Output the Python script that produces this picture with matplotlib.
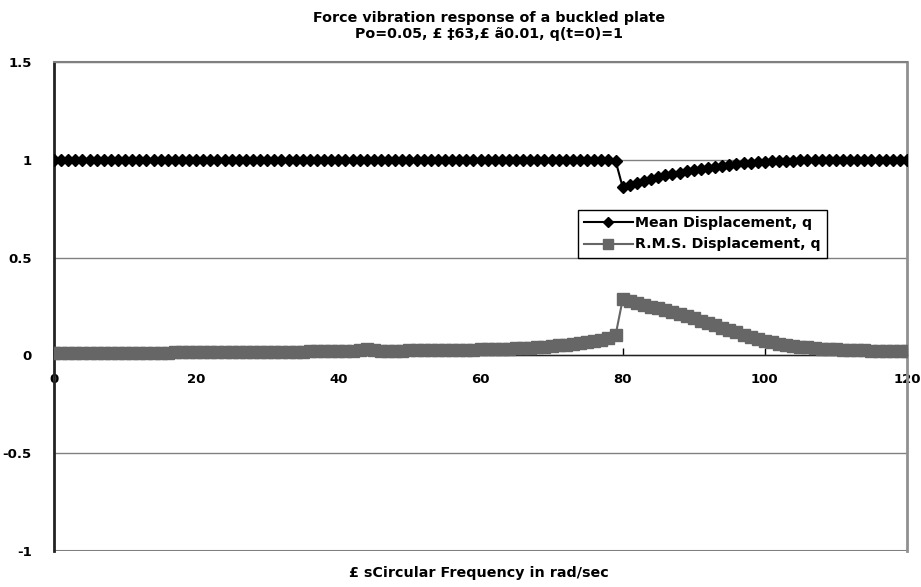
import numpy as np
import matplotlib
matplotlib.use("Agg")
import matplotlib.pyplot as plt

# circular frequency, rad/sec
freq = list(range(0, 121))

# mean displacement q
mean_q = [1.0] * 79 + [
    0.995,                                                  # 79
    0.860, 0.872, 0.883, 0.893, 0.903, 0.912, 0.920, 0.928, 0.935, 0.942,  # 80-89
    0.948, 0.954, 0.960, 0.965, 0.970, 0.975, 0.979, 0.983, 0.986, 0.989,  # 90-99
    0.991, 0.993, 0.994, 0.995, 0.996, 0.997, 0.998, 0.998, 0.999, 0.999,  # 100-109
    0.999, 1.0, 1.0, 1.0, 1.0, 1.0, 1.0, 1.0, 1.0, 1.0, 1.0,               # 110-120
]

# r.m.s. displacement q
rms_q = [
    0.012, 0.012, 0.012, 0.012, 0.012, 0.013, 0.013, 0.013, 0.013, 0.013,  # 0-9
    0.013, 0.014, 0.014, 0.014, 0.014, 0.014, 0.014, 0.015, 0.015, 0.015,  # 10-19
    0.015, 0.015, 0.016, 0.016, 0.016, 0.016, 0.017, 0.017, 0.017, 0.017,  # 20-29
    0.018, 0.018, 0.018, 0.019, 0.019, 0.019, 0.020, 0.020, 0.020, 0.021,  # 30-39
    0.021, 0.022, 0.023, 0.026, 0.034, 0.027, 0.025, 0.025, 0.025, 0.025,  # 40-49
    0.026, 0.026, 0.026, 0.027, 0.027, 0.028, 0.028, 0.029, 0.029, 0.030,  # 50-59
    0.031, 0.032, 0.033, 0.034, 0.035, 0.037, 0.038, 0.040, 0.042, 0.045,  # 60-69
    0.048, 0.051, 0.054, 0.058, 0.062, 0.067, 0.073, 0.080, 0.089, 0.103,  # 70-79
    0.286, 0.277, 0.268, 0.259, 0.249, 0.240, 0.230, 0.220, 0.210, 0.200,  # 80-89
    0.190, 0.178, 0.166, 0.154, 0.142, 0.130, 0.118, 0.106, 0.095, 0.085,  # 90-99
    0.075, 0.067, 0.060, 0.054, 0.049, 0.045, 0.041, 0.038, 0.035, 0.033,  # 100-109
    0.031, 0.029, 0.028, 0.027, 0.026, 0.025, 0.024, 0.023, 0.023, 0.022,  # 110-119
    0.022,                                                                 # 120
]

x_ticks = [0, 20, 40, 60, 80, 100, 120]
y_ticks = [-1, -0.5, 0, 0.5, 1, 1.5]
y_labels = ["-1", "-0.5", "0", "0.5", "1", "1.5"]

plt.rcParams['font.family'] = ['DejaVu Sans']

fig = plt.figure(figsize=(9.21, 5.87), dpi=100)
ax = fig.add_axes([54 / 921, 1 - 551 / 587, (907 - 54) / 921, (551 - 62) / 587])

ax.plot(freq, rms_q, color='#666666', marker='s', markersize=8.5, lw=1.5,
        label='R.M.S. Displacement, q', zorder=3)
ax.plot(freq, mean_q, color='black', marker='D', markersize=6.5, lw=1.5,
        label='Mean Displacement, q', zorder=4)

ax.set_xlim(0, 120)
ax.set_ylim(-1, 1.5)
ax.set_xticks(x_ticks)
ax.set_yticks(y_ticks)
ax.set_yticklabels(y_labels)

ax.grid(axis='y', color='#808080', lw=1, zorder=1)
ax.spines['bottom'].set_position(('data', 0))
ax.spines['bottom'].set_color('#222222')
ax.spines['bottom'].set_linewidth(1)
ax.spines['left'].set_color('#222222')
ax.spines['left'].set_linewidth(2)
ax.spines['top'].set_color('#808080')
ax.spines['top'].set_linewidth(1.5)
ax.spines['right'].set_color('#909090')
ax.spines['right'].set_linewidth(2)
ax.axhline(-1, color='#808080', lw=1.5, zorder=1)

ax.tick_params(axis='x', direction='in', length=5, width=1, pad=13,
               labelsize=9.5)
ax.tick_params(axis='y', length=0, pad=16, labelsize=9.5)
for lab in ax.get_xticklabels() + ax.get_yticklabels():
    lab.set_fontweight('bold')

handles, labels = ax.get_legend_handles_labels()
leg = ax.legend(handles[::-1], labels[::-1], loc='upper left',
                bbox_to_anchor=(578 / 921, 1 - 210 / 587),
                bbox_transform=fig.transFigure, frameon=True, fancybox=False,
                edgecolor='black', framealpha=1, borderpad=0.45,
                handlelength=3.4, handletextpad=0.2, labelspacing=0.5,
                borderaxespad=0, markerscale=0.8,
                prop={'weight': 'bold', 'size': 10.2})
leg.get_frame().set_linewidth(1)

fig.text(489 / 921, 1 - 18 / 587, "Force vibration response of a buckled plate",
         ha='center', va='center', fontsize=10.3, fontweight='bold')
fig.text(489 / 921, 1 - 34 / 587, "Po=0.05, £ ‡63,£ ã0.01, q(t=0)=1",
         ha='center', va='center', fontsize=10.3, fontweight='bold')
fig.text(479 / 921, 1 - 573 / 587, "£ sCircular Frequency in rad/sec",
         ha='center', va='center', fontsize=10.3, fontweight='bold')

fig.savefig('out.png', dpi=100)
